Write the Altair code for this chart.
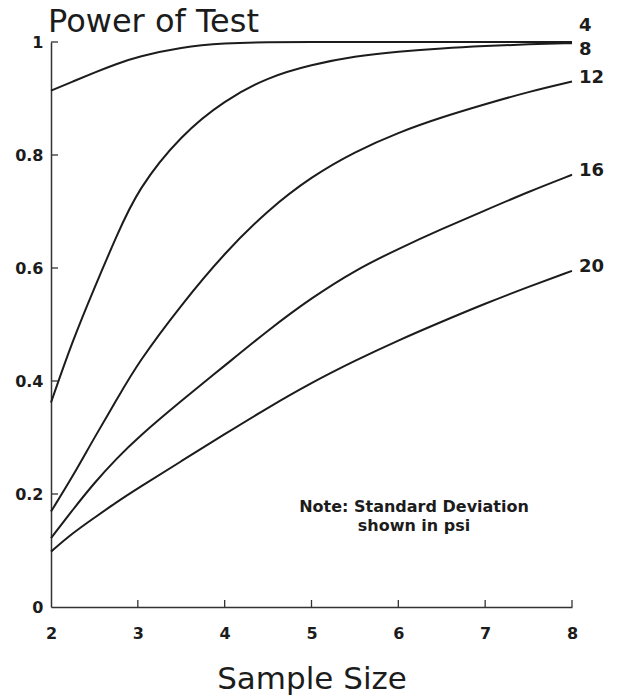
import altair as alt
import pandas as pd

# ---- data ----
sample_size = [2, 2.25, 2.5, 2.75, 3, 3.5, 4, 4.5, 5, 5.5, 6, 6.5, 7, 7.5, 8]
sd_names = ["4", "8", "12", "16", "20"]
power_sd4 = [0.914, 0.930, 0.946, 0.961, 0.974, 0.991, 0.998, 1.0, 1.0, 1.0, 1.0, 1.0, 1.0, 1.0, 1.0]
power_sd8 = [0.362, 0.472, 0.565, 0.655, 0.740, 0.836, 0.897, 0.938, 0.960, 0.975, 0.983, 0.989, 0.993, 0.996, 0.998]
power_sd12 = [0.169, 0.231, 0.300, 0.365, 0.432, 0.535, 0.627, 0.703, 0.762, 0.806, 0.840, 0.867, 0.890, 0.912, 0.930]
power_sd16 = [0.122, 0.172, 0.220, 0.262, 0.300, 0.365, 0.427, 0.490, 0.547, 0.596, 0.634, 0.669, 0.702, 0.735, 0.765]
power_sd20 = [0.098, 0.131, 0.158, 0.185, 0.210, 0.258, 0.306, 0.353, 0.397, 0.436, 0.472, 0.505, 0.537, 0.567, 0.595]

x_axis_values = [2, 3, 4, 5, 6, 7, 8]
x_tick_marks = [3, 4, 5, 6, 7, 8]
y_axis_values = [0, 0.2, 0.4, 0.6, 0.8, 1.0]
y_tick_marks = [0.2, 0.4, 0.6, 0.8, 1.0]

title_text = "Power of Test"
x_title = "Sample Size"
note_text = "Note: Standard Deviation\nshown in psi"

# ---- tables ----
rows = []
for sd, vals in zip(sd_names, [power_sd4, power_sd8, power_sd12, power_sd16, power_sd20]):
    for n, p in zip(sample_size, vals):
        rows.append({"sd": sd, "n": n, "power": p})
df = pd.DataFrame(rows)
end_df = df[df["n"] == sample_size[-1]].reset_index(drop=True)

W, H = 521, 565
FONT = "DejaVu Sans"
INK = "#1c1c1c"

xscale = alt.Scale(domain=[2, 8], nice=False, zero=False)
yscale = alt.Scale(domain=[0, 1], nice=False, zero=False)

x_axis = alt.Axis(
    values=x_axis_values, ticks=False, grid=False, format="d", labelFlush=False,
    labelFont=FONT, labelFontWeight="bold", labelFontSize=16, labelColor=INK,
    labelPadding=18, domainColor="#333333", domainWidth=1.5,
    title=x_title, titleFont=FONT, titleFontWeight="normal", titleFontSize=31,
    titleColor=INK, titleBaseline="alphabetic", titleY=81)
y_axis = alt.Axis(
    values=y_axis_values, ticks=False, grid=False, format="~g", labelFlush=False,
    labelFont=FONT, labelFontWeight="bold", labelFontSize=16, labelColor=INK,
    labelPadding=8, domainColor="#333333", domainWidth=1.5, title=None)

lines = alt.Chart(df).mark_line(interpolate="basis", color=INK, strokeWidth=2).encode(
    x=alt.X("n:Q", scale=xscale, axis=x_axis),
    y=alt.Y("power:Q", scale=yscale, axis=y_axis),
    detail="sd:N",
)

xt = alt.Chart(pd.DataFrame({"n": x_tick_marks})).mark_rule(color="#333333", strokeWidth=1.3).encode(
    x=alt.X("n:Q", scale=xscale, axis=x_axis),
    y=alt.value(H), y2=alt.value(H - 7),
)
yt = alt.Chart(pd.DataFrame({"power": y_tick_marks})).mark_rule(color="#333333", strokeWidth=1.3).encode(
    y=alt.Y("power:Q", scale=yscale, axis=y_axis),
    x=alt.value(0), x2=alt.value(7),
)

def end_label(filter_expr, dy):
    return alt.Chart(end_df).transform_filter(filter_expr).mark_text(
        align="left", baseline="middle", dx=7, dy=dy,
        font=FONT, fontWeight="bold", fontSize=18, color=INK,
    ).encode(
        x=alt.X("n:Q", scale=xscale, axis=x_axis),
        y=alt.Y("power:Q", scale=yscale, axis=y_axis),
        text="sd:N",
    )

lab4 = end_label("datum.sd == '4'", -16)
lab8 = end_label("datum.sd == '8'", 7)
lab_rest = end_label("datum.sd != '4' && datum.sd != '8'", -4)

title = alt.Chart(pd.DataFrame({"t": [title_text]})).mark_text(
    align="left", baseline="alphabetic", font=FONT, fontSize=32, color=INK,
).encode(text="t:N", x=alt.value(-3), y=alt.value(-10))

note = alt.Chart(pd.DataFrame({"t": [note_text]})).mark_text(
    align="center", baseline="top", lineBreak="\n", lineHeight=19,
    font=FONT, fontWeight="bold", fontSize=16, color=INK,
).encode(text="t:N", x=alt.value(363), y=alt.value(457))

chart = alt.layer(lines, xt, yt, lab4, lab8, lab_rest, title, note).properties(
    width=W, height=H,
    autosize=alt.AutoSizeParams(type="none"),
    padding={"left": 51, "top": 42, "right": 45, "bottom": 89},
    background="white",
).configure_view(strokeWidth=0)

chart.save("out.html", embed_options={"renderer": "svg", "actions": False})
